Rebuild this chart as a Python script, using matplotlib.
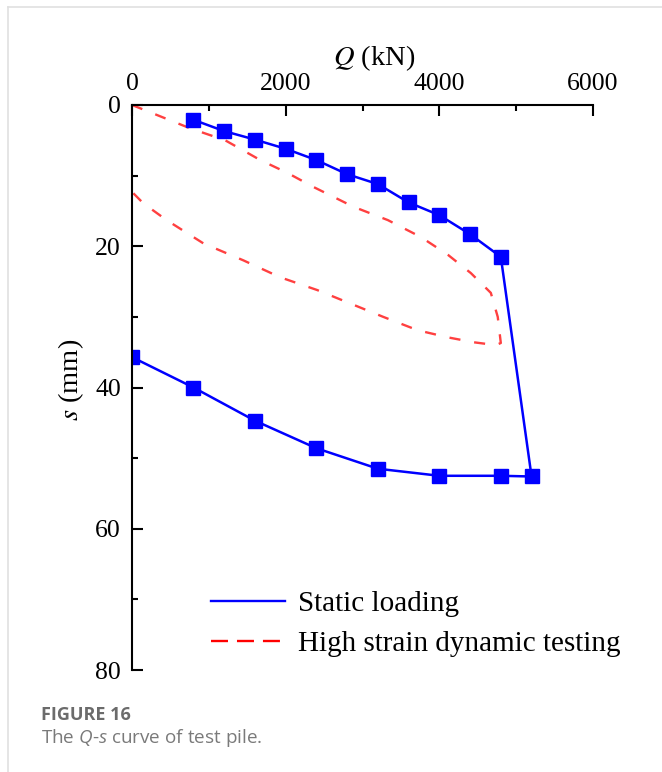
import matplotlib
matplotlib.use('Agg')
import matplotlib.pyplot as plt
from matplotlib.lines import Line2D
from matplotlib.ticker import MultipleLocator, FuncFormatter

plt.rcParams['font.family'] = ['Liberation Serif', 'DejaVu Serif']
plt.rcParams['mathtext.fontset'] = 'custom'
plt.rcParams['mathtext.rm'] = 'Open Sans'
plt.rcParams['mathtext.it'] = 'Open Sans:italic'

# static load test (loading then unloading)
static_q = [800, 1200, 1600, 2000, 2400, 2800, 3200, 3600, 4000, 4400, 4800,
            5200, 4800, 4000, 3200, 2400, 1600, 800, 0]
static_s = [2.1, 3.7, 4.9, 6.2, 7.8, 9.8, 11.2, 13.8, 15.6, 18.3, 21.5,
            52.6, 52.5, 52.5, 51.5, 48.6, 44.7, 40.0, 35.7]

# high strain dynamic test curve
dyn_q = [0, 756, 1213, 1670, 2020, 2360, 2880, 3330, 3760, 4110, 4410, 4670,
         4760, 4800, 4735, 4450, 4110, 3720, 3270, 2840, 2410, 1930, 1450,
         930, 450, 145, 0]
dyn_s = [0, 3.3, 5.0, 7.8, 9.6, 11.6, 14.4, 16.3, 18.7, 21.2, 23.8, 26.6,
         30.0, 33.7, 34.0, 33.6, 32.9, 31.9, 30.0, 28.1, 26.2, 24.4, 22.0,
         19.6, 16.3, 13.9, 12.3]

legend_labels = ['Static loading', 'High strain dynamic testing']

fig = plt.figure(figsize=(6.62, 7.72), dpi=100)
ax = fig.add_axes([0.1994, 0.1321, 0.6964, 0.7319])

ax.plot(dyn_q, dyn_s, color='#ff4040', lw=1.7, linestyle=(0, (4.7, 5.9)))
ax.plot(static_q, static_s, color='#0000ff', lw=1.8, marker='s', ms=9.5,
        mec='#0000ff', mew=1)

ax.set_xlim(0, 6000)
ax.set_ylim(80, 0)
ax.xaxis.tick_top()
ax.xaxis.set_label_position('top')
ax.xaxis.set_major_locator(MultipleLocator(2000))
ax.xaxis.set_minor_locator(MultipleLocator(1000))
ax.yaxis.set_major_locator(MultipleLocator(20))
ax.yaxis.set_minor_locator(MultipleLocator(10))
plain = FuncFormatter(lambda v, pos: '%d' % v)
ax.xaxis.set_major_formatter(plain)
ax.yaxis.set_major_formatter(plain)

for side in ['right', 'bottom']:
    ax.spines[side].set_visible(False)
for side in ['left', 'top']:
    ax.spines[side].set_linewidth(1.5)

ax.tick_params(which='major', direction='in', length=8, width=1.5,
               labelsize=18.5, labelfontfamily='Liberation Serif',
               top=True, bottom=False, right=False)
ax.tick_params(which='minor', direction='in', length=4, width=1.5,
               top=True, bottom=False, right=False)
ax.tick_params(axis='x', which='major', pad=7)
ax.tick_params(axis='y', which='major', pad=8)

ax.set_xlabel('$Q$ (kN)', fontsize=20.5, math_fontfamily='stix')
ax.xaxis.set_label_coords(0.525, 1.071)
ax.set_ylabel('$s$ (mm)', fontsize=20.5, math_fontfamily='stix')
ax.yaxis.set_label_coords(-0.099, 0.513)

handles = [Line2D([], [], color='#0000ff', lw=1.7),
           Line2D([], [], color='#ff0000', lw=1.7, linestyle=(0, (7.2, 3.8)))]
ax.legend(handles, legend_labels, loc='center left',
          bbox_to_anchor=(0.171, 0.0816), frameon=False, fontsize=21,
          borderpad=0, borderaxespad=0, handlelength=2.55,
          handletextpad=0.45, labelspacing=0.47)

# light frame of the figure panel
fig.add_artist(Line2D([8 / 662, 1], [1 - 7 / 772, 1 - 7 / 772], color='#e0e0e0', lw=1.2))
fig.add_artist(Line2D([8 / 662, 8 / 662], [0, 1 - 7 / 772], color='#e0e0e0', lw=1.2))

# caption
fig.text(41 / 662, 1 - 720 / 772, 'FIGURE 16', family='Open Sans',
         fontweight='bold', fontsize=13, color='#6b6b6b', va='baseline')
fig.text(41 / 662, 1 - 743 / 772, 'The $Q$-$s$ curve of test pile.',
         family='Open Sans', fontsize=13.6, color='#7a7a7a', va='baseline')

plt.savefig('out.png', dpi=100)
